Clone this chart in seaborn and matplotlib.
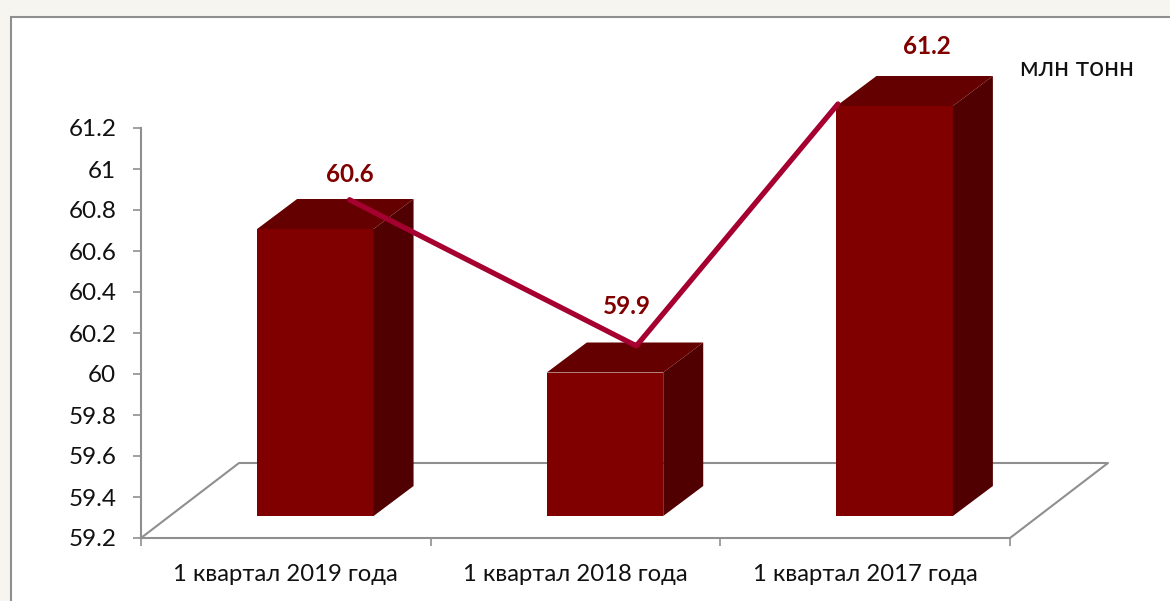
import matplotlib
matplotlib.use("Agg")
import matplotlib.pyplot as plt
import matplotlib.transforms as mtransforms
from matplotlib.patches import Polygon, Rectangle
import pandas as pd
import seaborn as sns

# DATA
categories = ["1 квартал 2019 года", "1 квартал 2018 года", "1 квартал 2017 года"]
values = [60.6, 59.9, 61.2]
value_labels = ["60.6", "59.9", "61.2"]
y_ticks = [59.2, 59.4, 59.6, 59.8, 60, 60.2, 60.4, 60.6, 60.8, 61, 61.2]
y_tick_labels = ["59.2", "59.4", "59.6", "59.8", "60", "60.2", "60.4", "60.6", "60.8", "61", "61.2"]
# the red line sits on its own, it does not follow the bar tops
line_x = [0.22, 1.21, 1.906]
line_y = [60.85, 60.137, 61.317]
unit_label = "млн тонн"

# STYLE
W, H = 1170, 601
GREY = "#8f8f8f"
DEPTH = (40, 30)
SHIFT = (29.5, 22)
LABEL_OFFSET = [(64, 77), (51, 88), (62, 82)]

sns.set_theme(style="white")
plt.rcParams["font.family"] = ["Lato", "Open Sans", "DejaVu Sans"]

fig = plt.figure(figsize=(W / 100, H / 100), dpi=100, facecolor="#f6f5f0")

# white panel with grey border on top and left
fig.add_artist(Rectangle((11, -10), W + 20, H - 17 + 10, transform=None,
                         facecolor="white", edgecolor=GREY, linewidth=1.5, zorder=-1))

ax = fig.add_axes([141 / W, 1 - 538 / H, (1010 - 141) / W, (538 - 128) / H])
ax.patch.set_alpha(0)

df = pd.DataFrame({"period": categories, "value": values})
sns.barplot(data=df, x="period", y="value", color="#800000", saturation=1,
            width=0.402, linewidth=0, ax=ax, zorder=3)

ax.set_xlim(-0.5, 2.5)
ax.set_ylim(59.2, 61.2)
ax.set_xlabel("")
ax.set_ylabel("")

# floor behind the bars
fx0, fy0 = 141, H - 538
dx, dy = 98, 75
floor = [(fx0, fy0), (fx0 + dx, fy0 + dy), (1010 + dx, fy0 + dy), (1010, fy0)]
ax.add_line(plt.Line2D(*zip(*floor), transform=mtransforms.IdentityTransform(),
                       color=GREY, linewidth=1.5, clip_on=False, zorder=1))

# turn flat bars into boxes
shift = mtransforms.offset_copy(ax.transData, fig, x=SHIFT[0], y=SHIFT[1], units="dots")
for bar, v in list(zip(ax.patches, values)):
    bar.set_y(59.2)
    bar.set_height(v - 59.2)
    bar.set_transform(shift)
    bar.set_clip_on(False)
    (x0, y0), (x1, y1) = shift.transform([(bar.get_x(), 59.2), (bar.get_x() + bar.get_width(), v)])
    ddx, ddy = DEPTH
    ident = mtransforms.IdentityTransform()
    ax.add_patch(Polygon([(x1, y0), (x1 + ddx, y0 + ddy), (x1 + ddx, y1 + ddy), (x1, y1)],
                         closed=True, facecolor="#500000", edgecolor="none",
                         transform=ident, clip_on=False, zorder=3))
    ax.add_patch(Polygon([(x0, y1), (x1, y1), (x1 + ddx, y1 + ddy), (x0 + ddx, y1 + ddy)],
                         closed=True, facecolor="#640000", edgecolor="none",
                         transform=ident, clip_on=False, zorder=3))

sns.lineplot(x=line_x, y=line_y, sort=False, errorbar=None, color="#a50030",
             linewidth=3.8, ax=ax, zorder=5, clip_on=False)

for i, (v, lab) in enumerate(zip(values, value_labels)):
    ax.annotate(lab, xy=(i, v), xytext=LABEL_OFFSET[i], textcoords="offset pixels",
                ha="center", va="center", color="#800000", fontsize=17.5, fontweight="bold",
                annotation_clip=False, zorder=6)

ax.text(1020, H - 69, unit_label, transform=mtransforms.IdentityTransform(),
        ha="left", va="center", fontsize=19, color="#111111")

# axes
sns.despine(ax=ax)
for side in ["left", "bottom"]:
    ax.spines[side].set_color(GREY)
    ax.spines[side].set_linewidth(1.5)
ax.set_yticks(y_ticks)
ax.set_yticklabels(y_tick_labels)
ax.set_xticks([0, 1, 2])
ax.set_xticklabels(categories)
ax.set_xticks([-0.5, 0.5, 1.5, 2.5], minor=True)
ax.tick_params(axis="y", left=True, length=5.8, width=1.2, color=GREY, pad=12,
               labelsize=17.5, labelcolor="#111111")
ax.tick_params(axis="x", which="major", bottom=False, pad=13, labelsize=17.2, labelcolor="#111111")
ax.tick_params(axis="x", which="minor", bottom=True, length=5.8, width=1.2, color=GREY)

fig.savefig("out.png", dpi=100, facecolor=fig.get_facecolor())
